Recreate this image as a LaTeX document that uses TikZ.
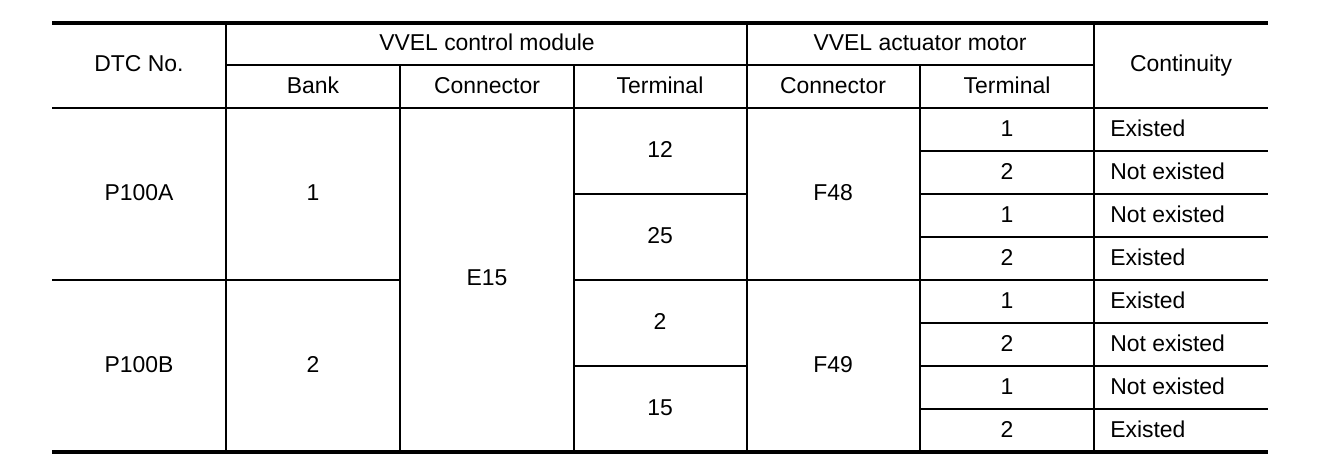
\documentclass[tikz,border=0pt]{standalone}
\usepackage{fontspec}
\setmainfont{Liberation Sans}
\usepackage{tikz}
\tikzstyle{cell} = [inner sep=0pt, text height=12.3pt, text depth=0pt, font=\fontsize{17.2}{20}\selectfont]
\tikzstyle{lcell} = [cell, anchor=west]
\tikzstyle{rule} = [draw, line width=1.5pt]
\tikzstyle{thickrule} = [draw, line width=3.5pt]

\begin{document}
\begin{tikzpicture}[x=0.75pt, y=-0.75pt]
    \useasboundingbox (0,0) rectangle (1328,462);
    % frame
    \path [thickrule] (52,23) -- (1268,23);
    \path [thickrule] (52,452) -- (1268,452);
    \path [rule] (226,65) -- (1094,65);
    \path [rule] (52,108) -- (1268,108);
    \foreach \y in {151,237,323,409}
        \path [rule] (920,\y) -- (1268,\y);
    \foreach \y in {194,366} {
        \path [rule] (574,\y) -- (747,\y);
        \path [rule] (920,\y) -- (1268,\y);
    }
    \path [rule] (52,280) -- (400,280);
    \path [rule] (574,280) -- (1268,280);
    \foreach \x in {226,747,1094}
        \path [rule] (\x,23) -- (\x,452);
    \foreach \x in {400,574,920}
        \path [rule] (\x,65) -- (\x,452);
    % header
    \node [cell] (dtcHead) at (139,63) {DTC No.};
    \node [cell] (moduleHead) at (487,42) {VVEL control module};
    \node [cell] (motorHead) at (920,42) {VVEL actuator motor};
    \node [cell] (contHead) at (1181,63) {Continuity};
    \node [cell] (bankHead) at (313,85) {Bank};
    \node [cell] (modConnHead) at (487,85) {Connector};
    \node [cell] (modTermHead) at (660,85) {Terminal};
    \node [cell] (motConnHead) at (833,85) {Connector};
    \node [cell] (motTermHead) at (1007,85) {Terminal};
    % body
    \node [cell] (dtcA) at (139,192) {P100A};
    \node [cell] (dtcB) at (139,364) {P100B};
    \node [cell] (bankA) at (313,192) {1};
    \node [cell] (bankB) at (313,364) {2};
    \node [cell] (modConn) at (487,277) {E15};
    \node [cell] (termA) at (660,149) {12};
    \node [cell] (termB) at (660,235) {25};
    \node [cell] (termC) at (660,321) {2};
    \node [cell] (termD) at (660,407) {15};
    \node [cell] (motConnA) at (833,192) {F48};
    \node [cell] (motConnB) at (833,364) {F49};
    \foreach \t [count=\i] in {1,2,1,2,1,2,1,2}
        \node [cell] (motTerm\i) at (1007,85+43*\i) {\t};
    \foreach \c [count=\i] in {Existed,Not existed,Not existed,Existed,Existed,Not existed,Not existed,Existed}
        \node [lcell] (cont\i) at (1110,85+43*\i) {\c};
\end{tikzpicture}
\end{document}
